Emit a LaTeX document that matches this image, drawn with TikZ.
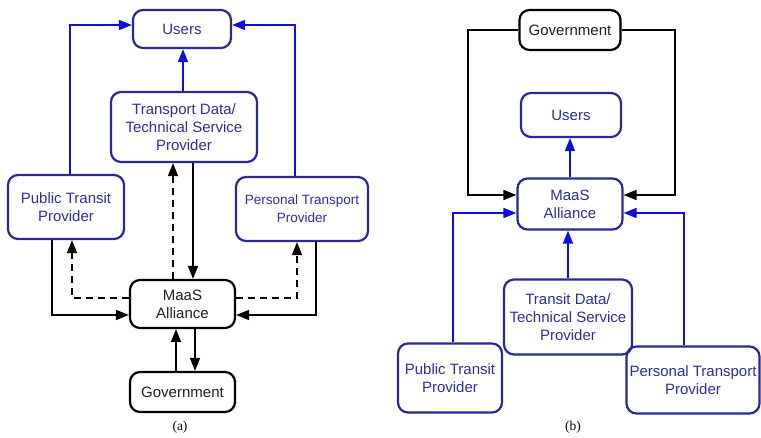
\documentclass[tikz,border=0pt]{standalone}
\usepackage{fontspec}
\setmainfont{Liberation Sans}
\newfontfamily\capfont{Liberation Serif}
\usetikzlibrary{arrows.meta}
\definecolor{boxblue}{RGB}{40,40,150}
\definecolor{txtblue}{RGB}{45,45,160}
\definecolor{lineblue}{RGB}{15,15,215}
\definecolor{txtgray}{RGB}{30,30,30}
\begin{document}
\begin{tikzpicture}[x=1pt,y=-1pt,
  bbox/.style={draw=boxblue,line width=2.2pt,rounded corners=10pt,align=center,
    text=txtblue,inner sep=0pt,font=\fontsize{15}{18}\selectfont},
  kbox/.style={draw=black,line width=2.2pt,rounded corners=10pt,align=center,
    text=txtgray,inner sep=0pt,font=\fontsize{15}{18}\selectfont},
  bl/.style={draw=lineblue,line width=1.6pt,-{Triangle[length=13pt,width=10pt]},color=lineblue},
  kl/.style={draw=black,line width=1.6pt,-{Triangle[length=13pt,width=10pt]}},
  kd/.style={kl,dash pattern=on 7pt off 5pt},
  captext/.style={font=\capfont\fontsize{13.5}{15}\selectfont}]
\useasboundingbox (0,0) rectangle (761,438);
% ---------- panel (a)
\node[bbox,minimum width=98pt,minimum height=38pt] (uA) at (182,29) {Users};
\node[bbox,minimum width=146pt,minimum height=70pt] (tdA) at (184,127) {Transport Data/\\Technical Service\\Provider};
\node[bbox,minimum width=116pt,minimum height=64pt] (ptA) at (66,207) {Public Transit\\Provider};
\node[bbox,minimum width=132pt,minimum height=64pt,font=\fontsize{13.5}{18}\selectfont] (psA) at (302,209) {Personal Transport\\Provider};
\node[kbox,minimum width=105pt,minimum height=48pt] (maA) at (182.5,304) {MaaS\\Alliance};
\node[kbox,minimum width=105pt,minimum height=40pt] (goA) at (182.5,392) {Government};
\node[captext] (la) at (180,427) {(a)};
\draw[bl] (ptA.north -| 70,0) |- (uA.west |- 0,25);
\draw[bl] (psA.north -| 295,0) |- (uA.east |- 0,25);
\draw[bl] (tdA.north -| 183,0) -- (uA.south -| 183,0);
\draw[kd] (maA.north -| 173,0) -- (tdA.south -| 173,0);
\draw[kl] (tdA.south -| 193,0) -- (maA.north -| 193,0);
\draw[kd] (maA.west |- 0,298) -| (ptA.south -| 72,0);
\draw[kl] (ptA.south -| 52,0) |- (maA.west |- 0,315);
\draw[kd] (maA.east |- 0,298) -| (psA.south -| 297,0);
\draw[kl] (psA.south -| 316,0) |- (maA.east |- 0,315);
\draw[kl] (goA.north -| 176,0) -- (maA.south -| 176,0);
\draw[kl] (maA.south -| 195,0) -- (goA.north -| 195,0);
% ---------- panel (b)
\node[kbox,minimum width=101pt,minimum height=40pt] (goB) at (570,30) {Government};
\node[bbox,minimum width=100pt,minimum height=44pt] (uB) at (571,115) {Users};
\node[bbox,minimum width=105pt,minimum height=51pt] (maB) at (570,204) {MaaS\\Alliance};
\node[bbox,minimum width=128pt,minimum height=75pt] (tdB) at (568,317) {Transit Data/\\Technical Service\\Provider};
\node[bbox,minimum width=104pt,minimum height=69pt] (ptB) at (450,378) {Public Transit\\Provider};
\node[bbox,minimum width=133pt,minimum height=67pt] (psB) at (693,380) {Personal Transport\\Provider};
\node[captext] (lb) at (573,427) {(b)};
\draw[kl] (goB.west) -| (468,110) |- (maB.west |- 0,195);
\draw[kl] (goB.east) -| (675,110) |- (maB.east |- 0,195);
\draw[bl] (maB.north -| 570,0) -- (uB.south -| 570,0);
\draw[bl] (ptB.north -| 453,0) |- (maB.west |- 0,213);
\draw[bl] (psB.north -| 684,0) |- (maB.east |- 0,213);
\draw[bl] (tdB.north -| 568,0) -- (maB.south -| 568,0);
\end{tikzpicture}
\end{document}
